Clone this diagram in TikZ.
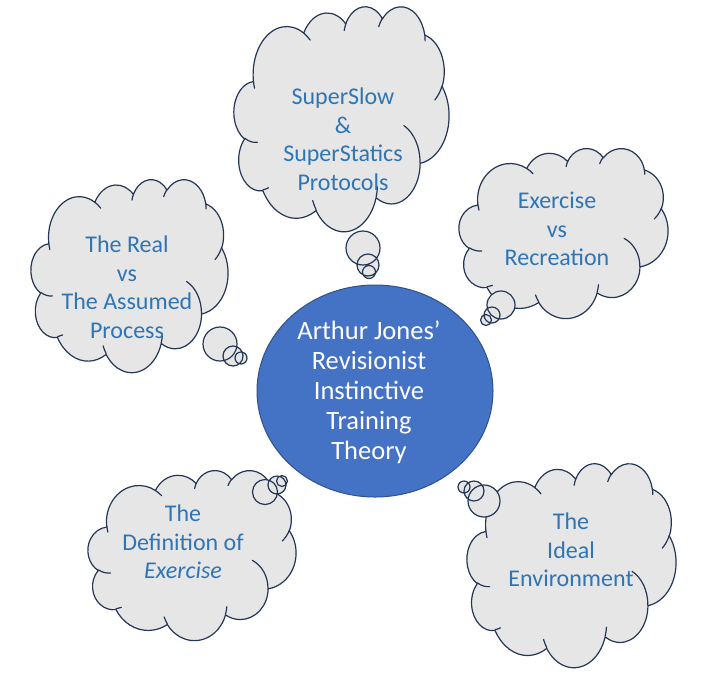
\documentclass[tikz,border=0pt]{standalone}
\usepackage{fontspec}
\setmainfont{Carlito}
\usetikzlibrary{shapes.geometric}
\definecolor{cloudfill}{HTML}{E7E6E6}
\definecolor{cloudline}{HTML}{243656}
\definecolor{txtblue}{HTML}{2E75B6}
\definecolor{ellfill}{HTML}{4472C4}
\definecolor{ellline}{HTML}{2F528F}
% arc on an ellipse given with DrawingML-style (visual) angles
\newcommand\ooarc[4]{arc[x radius=#1pt, y radius=#2pt,
  start angle={atan2((#1)*sin(#3),(#2)*cos(#3))},
  delta angle={mod(atan2((#1)*sin((#3)+(#4)),(#2)*cos((#3)+(#4)))-atan2((#1)*sin(#3),(#2)*cos(#3))+720,360)}]}
\newcommand\cloudmain{(3.900,14.370)
  \ooarc{6.753}{9.190}{-190.4875}{123.7805}
  \ooarc{5.333}{7.267}{-144.1024}{89.9452}
  \ooarc{4.365}{5.945}{-145.8079}{99.7230}
  \ooarc{4.857}{6.595}{-130.9861}{117.2417}
  \ooarc{5.333}{7.273}{-78.7089}{109.0269}
  \ooarc{6.775}{9.220}{-46.2673}{130.2690}
  \ooarc{5.785}{7.867}{0.6250}{114.0333}
  \ooarc{6.752}{9.215}{22.4516}{115.1726}
  \ooarc{7.720}{10.543}{66.2426}{75.7110}
  \ooarc{4.360}{5.918}{-274.9421}{146.7356}
  \ooarc{4.345}{5.945}{-246.8285}{152.5189} -- cycle}
\newcommand\cloudinner{
  (4.693,26.177) \ooarc{4.345}{5.945}{86.7420}{26.4295}
  (6.928,34.899) \ooarc{4.360}{5.918}{73.6105}{11.4360}
  (16.478,39.090) \ooarc{6.752}{9.215}{137.6241}{14.0811}
  (28.827,34.751) \ooarc{6.752}{9.215}{6.4533}{15.9984}
  (34.129,22.954) \ooarc{5.785}{7.867}{-70.2924}{70.9174}
  (41.798,15.354) \ooarc{5.333}{7.273}{30.3180}{27.7515}
  (38.324,5.426) \ooarc{4.857}{6.595}{-13.7443}{14.8589}
  (29.078,3.952) \ooarc{4.857}{6.595}{-149.1815}{18.1954}
  (22.141,4.720) \ooarc{4.365}{5.945}{-163.4943}{17.6864}
  (14.000,5.192) \ooarc{6.753}{9.190}{-66.7070}{12.3194}
  (4.127,15.789) \ooarc{6.753}{9.190}{157.6544}{11.8582}}
\newcommand\mycloud[4]{%
  \begin{scope}[shift={(#1,#2)}, xscale={(#3-#1)/43.2}, yscale={(#4-#2)/43.2}]
    \draw[cloudshape] \cloudmain;
    \draw[cloudedge] \cloudinner;
  \end{scope}}
\tikzset{
  cloudshape/.style={fill=cloudfill, draw=cloudline, line width=1.2pt, line join=round},
  cloudedge/.style={draw=cloudline, line width=1.2pt, line cap=round},
  bubfill/.style={fill=cloudfill},
  bubline/.style={draw=cloudline, line width=1.2pt},
  cloudtxt/.style={font=\fontsize{24}{28.5}\selectfont, align=center, text=txtblue, inner sep=0pt},
  centertxt/.style={font=\fontsize{26.5}{30}\selectfont, align=center, text=white, inner sep=0pt},
}
\begin{document}
\begin{tikzpicture}[x=1pt, y=1pt, yscale=-1]
\useasboundingbox[fill=white] (0,0) rectangle (703,689);

% clouds
\mycloud{234}{6}{449}{231}
\mycloud{31}{179}{228}{372}
\mycloud{459}{148}{668}{318}
\mycloud{88}{470}{296}{640}
\mycloud{467}{463}{676}{667}

% thought bubbles
\fill[bubfill] (363,248) circle[radius=17pt] (368,265) circle[radius=11pt] (369,272) circle[radius=6.5pt];
\draw[bubline] (363,248) circle[radius=17pt] (368,265) circle[radius=11pt] (369,272) circle[radius=6.5pt];
\fill[bubfill] (220,344) circle[radius=17pt] (233,356) circle[radius=10pt] (241,358) circle[radius=6pt];
\draw[bubline] (220,344) circle[radius=17pt] (233,356) circle[radius=10pt] (241,358) circle[radius=6pt];
\fill[bubfill] (501,305) circle[radius=14pt] (492,315) circle[radius=8pt] (486,320) circle[radius=5.5pt];
\draw[bubline] (501,305) circle[radius=14pt] (492,315) circle[radius=8pt] (486,320) circle[radius=5.5pt];
\fill[bubfill] (265,492) circle[radius=12.5pt] (277,485) circle[radius=9pt] (282,481) circle[radius=5.5pt];
\draw[bubline] (265,492) circle[radius=12.5pt] (277,485) circle[radius=9pt] (282,481) circle[radius=5.5pt];
\fill[bubfill] (484,501) circle[radius=16pt] (474,491) circle[radius=10pt] (464,487) circle[radius=6pt];
\draw[bubline] (484,501) circle[radius=16pt] (474,491) circle[radius=10pt] (464,487) circle[radius=6pt];

% central ellipse
\node[ellipse, fill=ellfill, draw=ellline, line width=1pt, inner sep=0pt, outer sep=0pt,
      minimum width=236pt, minimum height=212pt] (ctr) at (375,391) {};
\node[centertxt] (ctrtxt) at (369,392) {Arthur Jones’\\Revisionist\\Instinctive\\Training\\Theory};

% cloud texts
\node[cloudtxt] (t1) at (343,139) {SuperSlow\\\&\\SuperStatics\\Protocols};
\node[cloudtxt] (t2) at (127,287) {The Real\\vs\\The Assumed\\Process};
\node[cloudtxt] (t3) at (557,229) {Exercise\\vs\\Recreation};
\node[cloudtxt] (t4) at (183,542) {The\\Definition of\\\textit{Exercise}};
\node[cloudtxt] (t5) at (571,550) {The\\Ideal\\Environment};
\end{tikzpicture}
\end{document}
